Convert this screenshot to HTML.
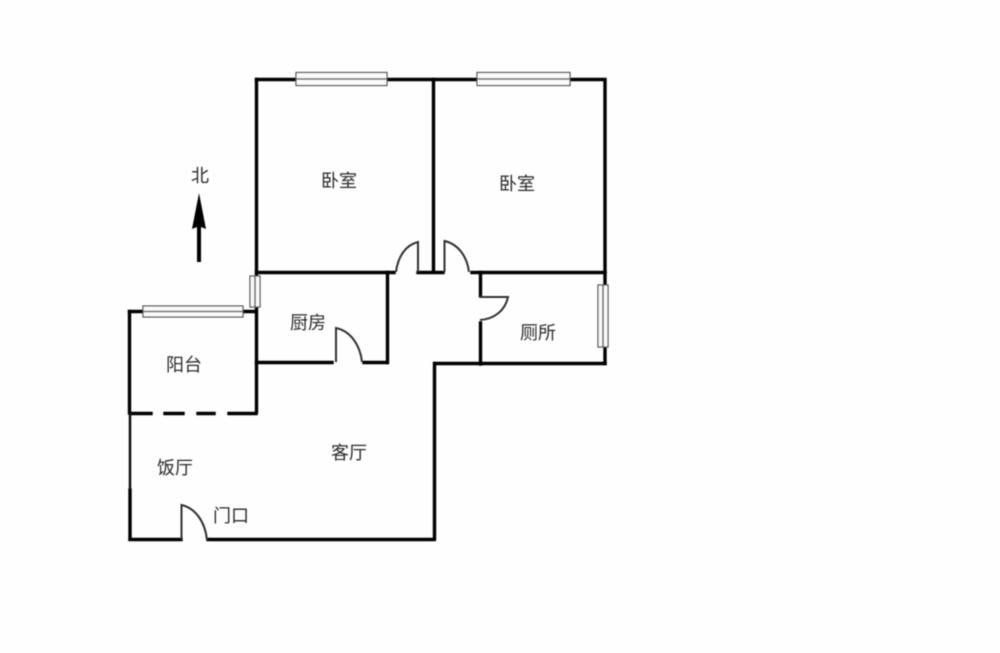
<!DOCTYPE html>
<html><head><meta charset="utf-8"><style>
html,body{margin:0;padding:0;background:#fefefe;width:1000px;height:653px;overflow:hidden}
svg{display:block}
text{font-family:"Liberation Sans","Noto Sans CJK SC",sans-serif;font-size:18px;fill:#2a2a2a;text-anchor:middle;font-weight:400}
</style></head><body>
<svg width="1000" height="653" viewBox="0 0 1000 653">
<defs><filter id="b" x="-2%" y="-2%" width="104%" height="104%"><feGaussianBlur stdDeviation="0.4"/></filter></defs>
<rect width="1000" height="653" fill="#fefefe"/>
<g filter="url(#b)">
<g fill="none" stroke="#050505" stroke-width="3.4" stroke-linecap="square">
<path d="M256.500 79.500H605V363.500"/>
<path d="M256.500 79.500V412"/>
<path d="M433.500 79.500V272"/>
<path d="M256.500 272.500H394"/>
<path d="M418 272.500H443"/>
<path d="M472 272.500H605"/>
<path d="M387.500 272.500V362.500"/>
<path d="M256.500 362.500H332"/>
<path d="M364 362.500H387"/>
<path d="M480.500 272.500V296"/>
<path d="M480.500 323V364"/>
<path d="M435 363.500H605"/>
<path d="M434.500 363.500V539"/>
<path d="M129.500 311.500H256"/>
<path d="M129.500 311.500V413"/>
<path d="M130 490V539"/>
<path d="M130 539.500H181"/>
<path d="M208 539.500H434"/>
<path d="M131 413.500H151M165 413.500H183M198 413.500H214M229 413.500H256"/>
</g>
<path d="M130 413V490" stroke="#111" stroke-width="2.500" fill="none"/>
<g fill="none" stroke="#333" stroke-width="2">
<path d="M396 272C398 256 406 245 418 242V272"/>
<path d="M444.500 272V241C458 244 467 256 469 272"/>
<path d="M480 297H508C505 311 494 319 480 320"/>
<path d="M336 362V328C350 331 360 344 362 362"/>
<path d="M181.500 539V505C195 508 205 521 207 540"/>
</g>
<g fill="#fbfbfb" stroke="#444" stroke-width="1.200">
<rect x="296" y="72.500" width="91" height="13"/>
<rect x="477" y="72.500" width="93" height="13"/>
<rect x="143" y="306" width="100" height="11"/>
<rect x="250" y="276" width="10" height="31"/>
<rect x="598" y="285" width="10" height="62"/>
</g>
<g stroke="#666" stroke-width="1.600">
<path d="M296 79H387M477 79H570M143 311.500H243"/>
<path d="M255 276V307M603 285V347"/>
</g>
<path d="M199 193L206 229L201 227V262H197V227L192 229Z" fill="#050505"/>
<text x="200" y="182">北</text>
<text x="339" y="187">卧室</text>
<text x="517" y="190">卧室</text>
<text x="308" y="329">厨房</text>
<text x="538" y="339">厕所</text>
<text x="184" y="371">阳台</text>
<text x="349" y="459">客厅</text>
<text x="175" y="474">饭厅</text>
<text x="231" y="522">门口</text>
</g>
</svg>
</body></html>
